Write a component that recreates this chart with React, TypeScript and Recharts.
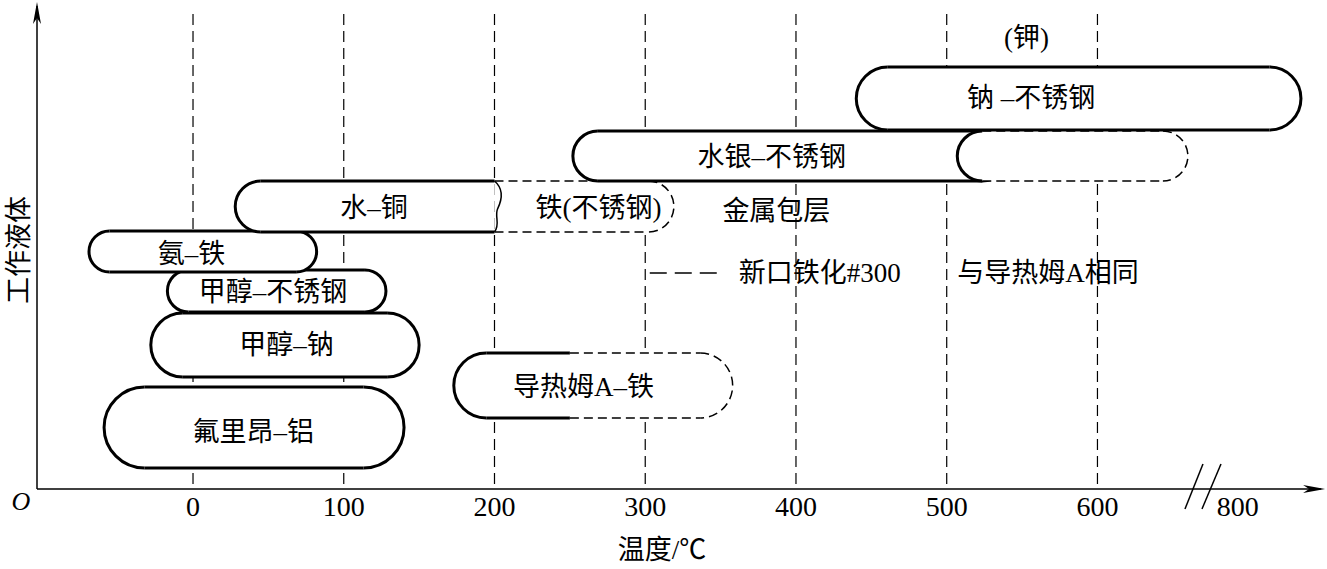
import React from "react";
import { ComposedChart, XAxis, YAxis, ReferenceLine, ReferenceArea, ReferenceDot, Customized } from "recharts";

const FONT = "'Liberation Serif', 'Noto Sans CJK SC', serif";

// 温度刻度 (°C)，600 与 800 之间断开
const TICKS = [0, 100, 200, 300, 400, 500, 600, 800];
const GRID = [0, 100, 200, 300, 400, 500, 600];
const BREAK_AT = 700;
const BREAK_GAP = 107;
const BREAK_MARK = 670;
const toAxis = (t: number) => (t >= BREAK_AT ? t - BREAK_GAP : t);

const X_MIN = -103.5;
const X_MAX = 741;
const Y_MAX = 484;

// 各段温度范围 [低, 高] 与纵向位置 [下, 上]
const SEG_ID = ["freon", "methanolNa", "methanolSS", "ammonia", "waterFe", "waterCu", "mercury", "mercuryExt", "sodium", "dowAExt", "dowA"];
const SEG_T: [number, number][] = [[-59, 140], [-28, 150], [-17, 128], [-69, 82], [200, 319], [28, 200], [252, 540], [507, 660], [440, 842], [250, 358], [173, 250]];
const SEG_Y: [number, number][] = [[21, 102], [112, 176], [177, 219], [217, 258], [257, 308], [257, 308], [308, 358], [308, 358], [359, 422], [71, 136], [71, 136]];

// 文字标注
const LABEL_TEXT = ["氟里昂–铝", "甲醇–钠", "甲醇–不锈钢", "氨–铁", "水–铜", "铁(不锈钢)", "金属包层", "水银–不锈钢", "钠 –不锈钢", "(钾)", "导热姆A–铁", "新口铁化#300", "与导热姆A相同"];
const LABEL_T = [40, 62, 53, -1, 120, 269, 387, 384, 556, 553, 259, 362, 507];
const LABEL_Y = [57, 144, 197, 235, 281, 281, 278, 332, 391, 451, 102, 216, 216];
const LEADER_T: [number, number] = [303, 350];
const LEADER_Y = 216;

type Cap = "round" | "open" | "wave";
const SEG_STYLE: Record<string, { left: Cap; right: Cap; edge: "solid" | "dash"; leftSolid?: boolean }> = {
  freon: { left: "round", right: "round", edge: "solid" },
  methanolNa: { left: "round", right: "round", edge: "solid" },
  methanolSS: { left: "round", right: "round", edge: "solid" },
  ammonia: { left: "round", right: "round", edge: "solid" },
  waterCu: { left: "round", right: "wave", edge: "solid" },
  waterFe: { left: "open", right: "round", edge: "dash" },
  mercury: { left: "round", right: "round", edge: "solid" },
  mercuryExt: { left: "round", right: "round", edge: "dash", leftSolid: true },
  sodium: { left: "round", right: "round", edge: "solid" },
  dowA: { left: "round", right: "open", edge: "solid" },
  dowAExt: { left: "open", right: "round", edge: "dash" },
};

const THICK = { stroke: "#000", strokeWidth: 3, fill: "none" };
const DASH = { stroke: "#000", strokeWidth: 1.5, fill: "none", strokeDasharray: "9 5" };

function Pill(props: any) {
  const { x, y, width, height, segId } = props;
  const st = SEG_STYLE[segId];
  const r = height / 2;
  const h = height;
  const xl = st.left === "round" ? x + r : x;
  const xr = st.right === "round" ? x + width - r : x + width;
  let fill = `M${xl},${y} L${xr},${y}`;
  fill += st.right === "round" ? ` A${r},${r} 0 0 1 ${xr},${y + h}` : ` L${xr},${y + h}`;
  fill += ` L${xl},${y + h}`;
  fill += st.left === "round" ? ` A${r},${r} 0 0 1 ${xl},${y}` : ` L${xl},${y}`;
  fill += " Z";
  const edge = st.edge === "solid" ? THICK : DASH;
  return (
    <g>
      <path d={fill} fill="#fff" stroke="none" />
      <line x1={xl} y1={y} x2={xr} y2={y} {...edge} />
      <line x1={xl} y1={y + h} x2={xr} y2={y + h} {...edge} />
      {st.left === "round" && (
        <path d={`M${xl},${y} A${r},${r} 0 0 0 ${xl},${y + h}`} {...(st.edge === "solid" || st.leftSolid ? THICK : DASH)} />
      )}
      {st.right === "round" && <path d={`M${xr},${y} A${r},${r} 0 0 1 ${xr},${y + h}`} {...edge} />}
      {st.right === "wave" && (
        <path
          d={`M${xr},${y} C${xr + 9},${y + h * 0.15} ${xr + 8},${y + h * 0.35} ${xr + 3},${y + h * 0.55} C${xr},${y + h * 0.7} ${xr + 6},${y + h * 0.85} ${xr},${y + h}`}
          stroke="#000"
          strokeWidth={1.5}
          fill="none"
        />
      )}
    </g>
  );
}

function Arrow(props: any) {
  const { x1, y1, x2, y2 } = props;
  const dx = x2 - x1;
  const dy = y2 - y1;
  const len = Math.hypot(dx, dy) || 1;
  const ux = dx / len;
  const uy = dy / len;
  const px = -uy;
  const py = ux;
  const L = 22;
  const W = 4;
  const bx = x2 - ux * L;
  const by = y2 - uy * L;
  const nx = x2 - ux * (L - 6);
  const ny = y2 - uy * (L - 6);
  return (
    <g>
      <line x1={x1} y1={y1} x2={x2 - ux * 4} y2={y2 - uy * 4} stroke="#000" strokeWidth={1.5} />
      <path d={`M${x2},${y2} L${bx + px * W},${by + py * W} L${nx},${ny} L${bx - px * W},${by - py * W} Z`} fill="#000" />
    </g>
  );
}

function BreakMark(props: any) {
  const { cx, cy } = props;
  return (
    <g stroke="#000" strokeWidth={1.5}>
      <line x1={cx - 18} y1={cy + 20} x2={cx} y2={cy - 25} />
      <line x1={cx - 1} y1={cy + 20} x2={cx + 18} y2={cy - 25} />
    </g>
  );
}

function renderTick(p: any) {
  const idx = TICKS.findIndex((t) => toAxis(t) === p.payload.value);
  return (
    <text x={p.x} y={p.y + 27} textAnchor="middle" fontFamily={FONT} fontSize={28} fill="#000">
      {idx >= 0 ? TICKS[idx] : p.payload.value}
    </text>
  );
}

function Titles() {
  return (
    <g fontFamily={FONT} fill="#000">
      <text x={21} y={510} textAnchor="middle" fontSize={26} fontStyle="italic">O</text>
      <text x={662} y={559} textAnchor="middle" fontSize={27}>温度/℃</text>
      <text transform="translate(28,250) rotate(-90)" textAnchor="middle" fontSize={27}>工作液体</text>
    </g>
  );
}

export default function App() {
  return (
    <div style={{ position: "absolute", left: 0, top: 0, background: "#fff" }}>
      <ComposedChart width={1327} height={569} data={[]} margin={{ top: 5, right: 17, left: 37, bottom: 0 }}>
        <XAxis
          type="number"
          dataKey="t"
          domain={[X_MIN, X_MAX]}
          allowDataOverflow
          ticks={TICKS.map(toAxis)}
          interval={0}
          axisLine={false}
          tickLine={false}
          tickSize={0}
          tickMargin={0}
          height={80}
          tick={renderTick}
        />
        <YAxis type="number" dataKey="y" domain={[0, Y_MAX]} allowDataOverflow hide />
        {GRID.map((t) => (
          <ReferenceLine
            key={"g" + t}
            segment={[{ x: t, y: 475 }, { x: t, y: 0 }]}
            stroke="#000"
            strokeWidth={1.2}
            strokeDasharray="11 6"
            zIndex={10}
          />
        ))}
        {SEG_ID.map((id, i) => (
          <ReferenceArea
            key={id}
            x1={toAxis(SEG_T[i][0])}
            x2={toAxis(SEG_T[i][1])}
            y1={SEG_Y[i][0]}
            y2={SEG_Y[i][1]}
            ifOverflow="visible"
            zIndex={100 + i}
            shape={(p: any) => <Pill {...p} segId={id} />}
          />
        ))}
        <ReferenceLine
          segment={[{ x: LEADER_T[0], y: LEADER_Y }, { x: LEADER_T[1], y: LEADER_Y }]}
          stroke="#000"
          strokeWidth={1.5}
          strokeDasharray="17 8"
          zIndex={300}
        />
        <ReferenceLine
          segment={[{ x: X_MIN, y: 0 }, { x: 751, y: 0 }]}
          ifOverflow="visible"
          zIndex={300}
          shape={(p: any) => <Arrow {...p} />}
        />
        <ReferenceLine
          segment={[{ x: X_MIN, y: 0 }, { x: X_MIN, y: 487 }]}
          ifOverflow="visible"
          zIndex={300}
          shape={(p: any) => <Arrow {...p} />}
        />
        <ReferenceDot x={BREAK_MARK} y={0} r={0} ifOverflow="visible" zIndex={310} shape={(p: any) => <BreakMark {...p} />} />
        {LABEL_TEXT.map((txt, i) => (
          <ReferenceDot
            key={"l" + i}
            x={toAxis(LABEL_T[i])}
            y={LABEL_Y[i]}
            r={0}
            ifOverflow="visible"
            zIndex={400}
            shape={(p: any) => (
              <text
                x={p.cx}
                y={p.cy}
                textAnchor={i >= 11 ? "start" : "middle"}
                dominantBaseline="central"
                fontFamily={FONT}
                fontSize={27}
                fill="#000"
              >
                {txt}
              </text>
            )}
          />
        ))}
        <Customized component={<Titles />} />
      </ComposedChart>
    </div>
  );
}
